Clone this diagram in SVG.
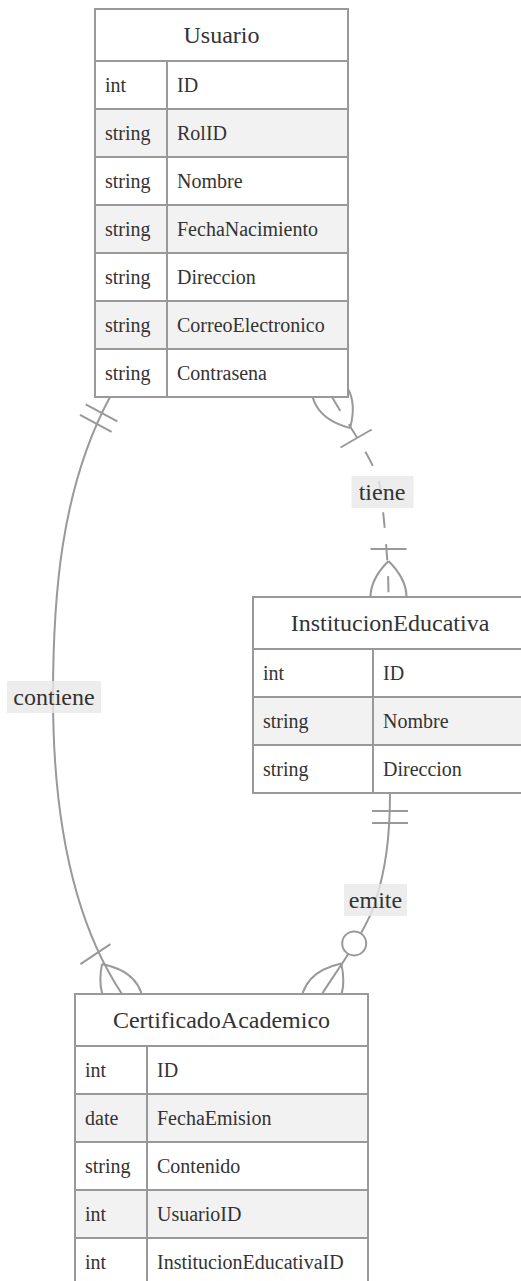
<svg xmlns="http://www.w3.org/2000/svg" width="521" height="1281" viewBox="0 0 521 1281">
<style>
svg text{font-family:"Liberation Serif",serif !important;fill:#333}
.title{font-size:24px;text-anchor:middle}
.attr{font-size:20px}
.box{fill:#fff;stroke:#999;stroke-width:2}
.odd{fill:#fff;stroke:#999;stroke-width:2}
.even{fill:#f2f2f2;stroke:#999;stroke-width:2}
.rel{fill:none;stroke:#999;stroke-width:2}
.dash{stroke-dasharray:16 16}
.lbl{fill:#e8e8e8;fill-opacity:0.8}
.ltxt{font-size:24px;text-anchor:middle}
.circ{fill:#fff;stroke:#999;stroke-width:2}
</style>
<rect width="521" height="1281" fill="#fff"/>
<g id="connectors">
  <path class="rel" d="M110,397 C60,490 53,600 53,697 C53,800 68,913 122,994"/>
  <path class="rel" d="M117.3,421.3 L85.7,404.3 M111.6,431.9 L80,414.9"/>
  <path class="rel" d="M102,964 Q152,974 142,1024 Q92,1014 102,964 M110.4,944.1 L80.4,964.1"/>
  <path class="rel dash" d="M332,397 C352,431.5 378,465 381,492 C384,520 388.5,560 388.5,597"/>
  <path class="rel" d="M350.1,428.1 Q363.1,378.9 313.9,365.9 Q300.9,415.1 350.1,428.1 M371.7,429.5 L340.5,447.5"/>
  <path class="rel" d="M388.5,561 Q424.5,597 388.5,633 Q352.5,597 388.5,561 M370.5,549 L406.5,549"/>
  <path class="rel" d="M390,793 C390,840 385,870 376,900 C367,930 340.8,964.5 322,994"/>
  <path class="rel" d="M372,811 L408,811 M372,823 L408,823"/>
  <path class="rel" d="M341.3,963.6 Q352.4,1013.3 302.7,1024.4 Q291.6,974.7 341.3,963.6"/>
  <circle class="circ" cx="354.2" cy="943.4" r="12"/>
  <g id="label-contiene">
    <rect class="lbl" x="7" y="681" width="94" height="32"/>
    <text class="ltxt" x="54" y="705" font-family="Liberation Serif" style="font-family:'Liberation Serif',serif">contiene</text>
  </g>
  <g id="label-tiene">
    <rect class="lbl" x="351.5" y="476" width="62" height="32"/>
    <text class="ltxt" x="382" y="500" font-family="Liberation Serif" style="font-family:'Liberation Serif',serif">tiene</text>
  </g>
  <g id="label-emite">
    <rect class="lbl" x="344" y="884" width="63" height="32"/>
    <text class="ltxt" x="375.5" y="908" font-family="Liberation Serif" style="font-family:'Liberation Serif',serif">emite</text>
  </g>
</g>
<g id="Usuario">
  <rect class="box" x="95" y="9" width="253" height="388"/>
  <text class="title" x="221.5" y="43" font-family="Liberation Serif" style="font-family:'Liberation Serif',serif">Usuario</text>
  <rect class="odd" x="95" y="61" width="72" height="48"/><rect class="odd" x="167" y="61" width="181" height="48"/>
  <rect class="even" x="95" y="109" width="72" height="48"/><rect class="even" x="167" y="109" width="181" height="48"/>
  <rect class="odd" x="95" y="157" width="72" height="48"/><rect class="odd" x="167" y="157" width="181" height="48"/>
  <rect class="even" x="95" y="205" width="72" height="48"/><rect class="even" x="167" y="205" width="181" height="48"/>
  <rect class="odd" x="95" y="253" width="72" height="48"/><rect class="odd" x="167" y="253" width="181" height="48"/>
  <rect class="even" x="95" y="301" width="72" height="48"/><rect class="even" x="167" y="301" width="181" height="48"/>
  <rect class="odd" x="95" y="349" width="72" height="48"/><rect class="odd" x="167" y="349" width="181" height="48"/>
  <text class="attr" x="105" y="92" font-family="Liberation Serif" style="font-family:'Liberation Serif',serif">int</text><text class="attr" x="177" y="92" font-family="Liberation Serif" style="font-family:'Liberation Serif',serif">ID</text>
  <text class="attr" x="105" y="140" font-family="Liberation Serif" style="font-family:'Liberation Serif',serif">string</text><text class="attr" x="177" y="140" font-family="Liberation Serif" style="font-family:'Liberation Serif',serif">RolID</text>
  <text class="attr" x="105" y="188" font-family="Liberation Serif" style="font-family:'Liberation Serif',serif">string</text><text class="attr" x="177" y="188" font-family="Liberation Serif" style="font-family:'Liberation Serif',serif">Nombre</text>
  <text class="attr" x="105" y="236" font-family="Liberation Serif" style="font-family:'Liberation Serif',serif">string</text><text class="attr" x="177" y="236" font-family="Liberation Serif" style="font-family:'Liberation Serif',serif">FechaNacimiento</text>
  <text class="attr" x="105" y="284" font-family="Liberation Serif" style="font-family:'Liberation Serif',serif">string</text><text class="attr" x="177" y="284" font-family="Liberation Serif" style="font-family:'Liberation Serif',serif">Direccion</text>
  <text class="attr" x="105" y="332" font-family="Liberation Serif" style="font-family:'Liberation Serif',serif">string</text><text class="attr" x="177" y="332" font-family="Liberation Serif" style="font-family:'Liberation Serif',serif">CorreoElectronico</text>
  <text class="attr" x="105" y="380" font-family="Liberation Serif" style="font-family:'Liberation Serif',serif">string</text><text class="attr" x="177" y="380" font-family="Liberation Serif" style="font-family:'Liberation Serif',serif">Contrasena</text>
</g>
<g id="InstitucionEducativa">
  <rect class="box" x="253" y="597" width="274" height="196"/>
  <text class="title" x="390" y="631" font-family="Liberation Serif" style="font-family:'Liberation Serif',serif">InstitucionEducativa</text>
  <rect class="odd" x="253" y="649" width="120" height="48"/><rect class="odd" x="373" y="649" width="154" height="48"/>
  <rect class="even" x="253" y="697" width="120" height="48"/><rect class="even" x="373" y="697" width="154" height="48"/>
  <rect class="odd" x="253" y="745" width="120" height="48"/><rect class="odd" x="373" y="745" width="154" height="48"/>
  <text class="attr" x="263" y="680" font-family="Liberation Serif" style="font-family:'Liberation Serif',serif">int</text><text class="attr" x="383" y="680" font-family="Liberation Serif" style="font-family:'Liberation Serif',serif">ID</text>
  <text class="attr" x="263" y="728" font-family="Liberation Serif" style="font-family:'Liberation Serif',serif">string</text><text class="attr" x="383" y="728" font-family="Liberation Serif" style="font-family:'Liberation Serif',serif">Nombre</text>
  <text class="attr" x="263" y="776" font-family="Liberation Serif" style="font-family:'Liberation Serif',serif">string</text><text class="attr" x="383" y="776" font-family="Liberation Serif" style="font-family:'Liberation Serif',serif">Direccion</text>
</g>
<g id="CertificadoAcademico">
  <rect class="box" x="75" y="994" width="293" height="292"/>
  <text class="title" x="221.5" y="1028" font-family="Liberation Serif" style="font-family:'Liberation Serif',serif">CertificadoAcademico</text>
  <rect class="odd" x="75" y="1046" width="72" height="48"/><rect class="odd" x="147" y="1046" width="221" height="48"/>
  <rect class="even" x="75" y="1094" width="72" height="48"/><rect class="even" x="147" y="1094" width="221" height="48"/>
  <rect class="odd" x="75" y="1142" width="72" height="48"/><rect class="odd" x="147" y="1142" width="221" height="48"/>
  <rect class="even" x="75" y="1190" width="72" height="48"/><rect class="even" x="147" y="1190" width="221" height="48"/>
  <rect class="odd" x="75" y="1238" width="72" height="48"/><rect class="odd" x="147" y="1238" width="221" height="48"/>
  <text class="attr" x="85" y="1077" font-family="Liberation Serif" style="font-family:'Liberation Serif',serif">int</text><text class="attr" x="157" y="1077" font-family="Liberation Serif" style="font-family:'Liberation Serif',serif">ID</text>
  <text class="attr" x="85" y="1125" font-family="Liberation Serif" style="font-family:'Liberation Serif',serif">date</text><text class="attr" x="157" y="1125" font-family="Liberation Serif" style="font-family:'Liberation Serif',serif">FechaEmision</text>
  <text class="attr" x="85" y="1173" font-family="Liberation Serif" style="font-family:'Liberation Serif',serif">string</text><text class="attr" x="157" y="1173" font-family="Liberation Serif" style="font-family:'Liberation Serif',serif">Contenido</text>
  <text class="attr" x="85" y="1221" font-family="Liberation Serif" style="font-family:'Liberation Serif',serif">int</text><text class="attr" x="157" y="1221" font-family="Liberation Serif" style="font-family:'Liberation Serif',serif">UsuarioID</text>
  <text class="attr" x="85" y="1269" font-family="Liberation Serif" style="font-family:'Liberation Serif',serif">int</text><text class="attr" x="157" y="1269" font-family="Liberation Serif" style="font-family:'Liberation Serif',serif">InstitucionEducativaID</text>
</g>
</svg>
